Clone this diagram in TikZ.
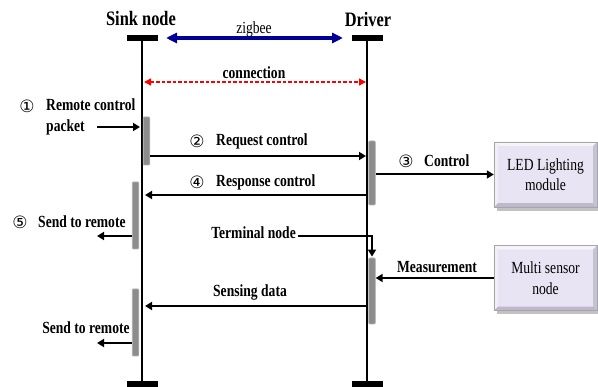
\documentclass[tikz,border=0pt]{standalone}
\usepackage{fontspec}
\setmainfont{Liberation Serif}
\newfontfamily\circfont{DejaVu Sans}
\usetikzlibrary{arrows.meta,calc,shadows}
\definecolor{zb}{RGB}{0,0,150}
\definecolor{lav}{RGB}{233,228,243}
\definecolor{lavlight}{RGB}{246,243,250}
\definecolor{lavdark}{RGB}{190,184,204}
\definecolor{barfill}{RGB}{140,140,140}
\definecolor{barline}{RGB}{175,175,175}
\newcommand\cnd[1]{\scalebox{0.8}[1]{#1}}
\begin{document}
\begin{tikzpicture}[x=1pt,y=-1pt,
  title/.style={font=\fontsize{20.5}{24}\selectfont\bfseries, inner sep=0},
  lbl/.style={font=\fontsize{17}{21}\selectfont\bfseries, inner sep=0},
  rlbl/.style={font=\fontsize{17}{21}\selectfont, inner sep=0},
  num/.style={font=\circfont\fontsize{17}{19}\selectfont, inner sep=0},
  life/.style={line width=2.2pt},
  endbar/.style={fill=black, draw=none, minimum width=31pt, minimum height=6pt, inner sep=0},
  act/.style={fill=barfill, draw=barline, line width=0.8pt, rounded corners=1pt, minimum width=6.5pt, inner sep=0},
  msg/.style={line width=2pt, -{Triangle[length=7pt,width=8pt]}},
  box/.style={fill=lav, draw=gray!70, line width=0.4pt, minimum width=103pt, minimum height=65pt, inner sep=0, drop shadow={shadow xshift=3pt,shadow yshift=-4pt,fill=gray!80,opacity=0.6}},
  boxtext/.style={font=\fontsize{17}{20.5}\selectfont, align=center, inner sep=0}
]
\useasboundingbox (0,0) rectangle (598,387);

% lifelines
\node[endbar] (st) at (142.5,38) {};
\node[endbar] (sb) at (142.5,384) {};
\node[endbar] (dt) at (367.5,38) {};
\node[endbar] (db) at (367.5,384) {};
\draw[life] (142,38) -- (142,384);
\draw[life] (367,38) -- (367,384);

% titles
\node[title] (sinkt) at (141,18) {\cnd{Sink node}};
\node[title] (drvt) at (368,19) {\cnd{Driver}};

% zigbee
\draw[zb, line width=3.5pt, {Triangle[length=11pt,width=10pt]}-{Triangle[length=11pt,width=10pt]}] (166,38) -- (343,38);
\node[rlbl] (zig) at (254,29) {\cnd{zigbee}};

% connection
\draw[red, line width=1.3pt, dash pattern=on 3.5pt off 2pt, {Triangle[length=7pt,width=7pt]}-{Triangle[length=7pt,width=7pt]}] (144,82) -- (366,82);
\node[lbl] (conn) at (254,73) {\cnd{connection}};

% activation bars
\node[act, minimum height=48pt] (s1) at (146.5,141) {};
\node[act, minimum height=67pt] (s2) at (135.5,215.5) {};
\node[act, minimum height=67pt] (s3) at (135.5,322.5) {};
\node[act, minimum height=64pt] (d1) at (372,173) {};
\node[act, minimum height=66pt] (d2) at (372,291) {};

% boxes
\node[box] (led) at (545.5,174.5) {};
\node[box] (ms) at (545.5,278) {};
\foreach \b in {led,ms}{
  \fill[lavlight] (\b.north west) -- (\b.north east) -- ($(\b.north east)+(-4,4)$) -- ($(\b.north west)+(4,4)$) -- cycle;
  \fill[lavlight!70!lav] (\b.north west) -- (\b.south west) -- ($(\b.south west)+(4,-4)$) -- ($(\b.north west)+(4,4)$) -- cycle;
  \fill[lavdark] (\b.south west) -- (\b.south east) -- ($(\b.south east)+(-4,-4)$) -- ($(\b.south west)+(4,-4)$) -- cycle;
  \fill[lavdark!80!lav] (\b.north east) -- (\b.south east) -- ($(\b.south east)+(-4,-4)$) -- ($(\b.north east)+(-4,4)$) -- cycle;
  \draw[gray!70, line width=0.4pt] (\b.north west) rectangle (\b.south east);
}
\node[boxtext] (ledt) at (led.center) {\cnd{LED Lighting}\\\cnd{module}};
\node[boxtext] (mst) at (ms.center) {\cnd{Multi sensor}\\\cnd{node}};

% step 1
\node[num] (n1) at (27,106) {①};
\node[lbl, align=left, anchor=west] (rcp) at (46,116.5) {\cnd{Remote control}\\\cnd{packet}};
\coordinate (rcpstart) at (97,127);
\draw[msg] (rcpstart) -- (140,127);

% step 2
\node[num] (n2) at (197,141) {②};
\node[lbl, anchor=west] (req) at (216,141) {\cnd{Request control}};
\draw[msg] (s1.east |- 0,156) -- (366,156);

% step 3
\node[num] (n3) at (406,161) {③};
\node[lbl, anchor=west] (ctl) at (424,161) {\cnd{Control}};
\draw[msg] (d1.east |- led.west) -- (led.west);

% step 4
\node[num] (n4) at (197,182) {④};
\node[lbl, anchor=west] (resp) at (216,182) {\cnd{Response control}};
\draw[msg] (367,195) -- (145,195);

% step 5
\node[num] (n5) at (20,222) {⑤};
\node[lbl, anchor=west] (str1) at (38,222) {\cnd{Send to remote}};
\coordinate (str1end) at (97,236);
\draw[msg] (s2.west |- str1end) -- (str1end);

% terminal node
\node[lbl, anchor=east] (term) at (296,233) {\cnd{Terminal node}};
\draw[msg] (298,236) -- (d2.north |- 0,236) -- ([yshift=1pt]d2.north);

% measurement
\node[lbl] (meas) at (437,267) {\cnd{Measurement}};
\draw[msg] (ms.west) -- (d2.east |- ms.west);

% sensing data
\node[lbl] (sens) at (250,292) {\cnd{Sensing data}};
\draw[msg] (367,306) -- (145,306);

% send to remote 2
\node[lbl] (str2) at (86,328) {\cnd{Send to remote}};
\coordinate (str2end) at (97,343);
\draw[msg] (s3.west |- str2end) -- (str2end);
\end{tikzpicture}
\end{document}
